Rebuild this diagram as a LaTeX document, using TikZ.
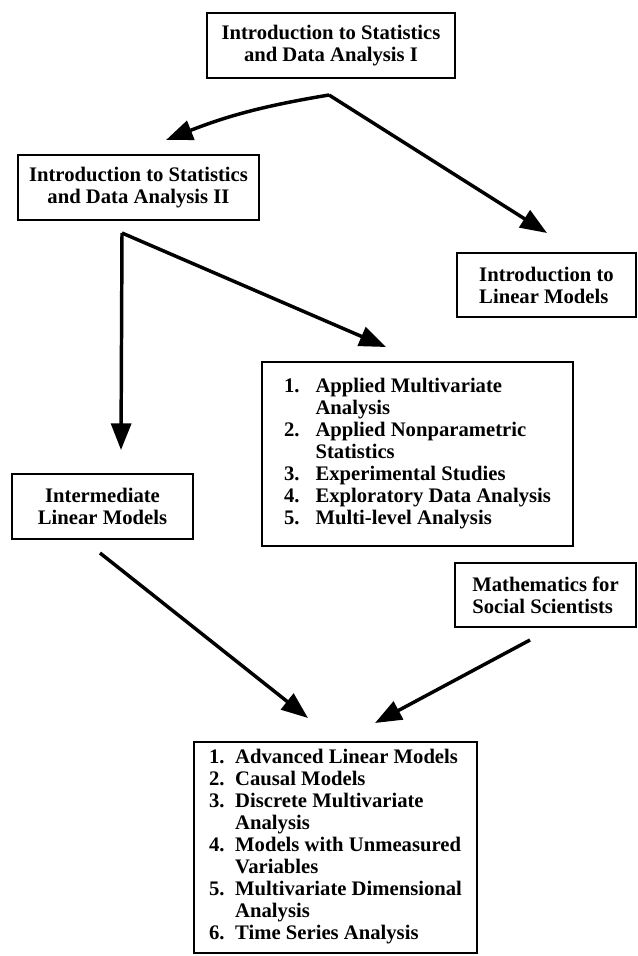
\documentclass[tikz,border=0pt]{standalone}
\usepackage{fontspec}
\setmainfont{Liberation Serif}
\usetikzlibrary{positioning,arrows.meta,calc}

\begin{document}
\begin{tikzpicture}[
x=0.75pt, y=-0.75pt,
font=\bfseries\fontsize{15.5}{16.5}\selectfont,
box/.style={draw, line width=1.3pt, inner sep=0pt, align=center},
leftbox/.style={box, align=left},
arrow/.style={-{Triangle[length=20pt, width=15pt]}, line width=2.6pt}
]
\clip (0,0) rectangle (637,956);

\node[box, minimum width=186pt, minimum height=49pt] (stat1) at (331,45.5) {Introduction to Statistics\\and Data Analysis I};
\node[box, minimum width=181pt, minimum height=49pt] (stat2) at (138.5,187.5) {Introduction to Statistics\\and Data Analysis II};
\node[leftbox, minimum width=134pt, minimum height=48pt] (linmod) at (546.5,285) {Introduction to\\Linear Models};
\node[box, minimum width=233pt, minimum height=138pt] (applied) at (417.5,454) {%
\begin{tabular}{@{}r@{\hspace{12pt}}l@{}}
1. & Applied Multivariate\\
   & Analysis\\
2. & Applied Nonparametric\\
   & Statistics\\
3. & Experimental Studies\\
4. & Exploratory Data Analysis\\
5. & Multi-level Analysis
\end{tabular}};
\node[box, minimum width=136pt, minimum height=49pt] (interm) at (102.5,506.5) {Intermediate\\Linear Models};
\node[leftbox, minimum width=136pt, minimum height=48pt] (maths) at (545.5,595) {Mathematics for\\Social Scientists};
\node[box, anchor=north, minimum width=212pt, inner ysep=5pt] (advanced) at (335.5,741) {%
\begin{tabular}{@{}r@{\hspace{8pt}}l@{}}
1. & Advanced Linear Models\\
2. & Causal Models\\
3. & Discrete Multivariate\\
   & Analysis\\
4. & Models with Unmeasured\\
   & Variables\\
5. & Multivariate Dimensional\\
   & Analysis\\
6. & Time Series Analysis
\end{tabular}};

% split points and arrow ends
\coordinate (fork1) at (329,95);
\coordinate (fork2) at (122,233);
\coordinate (to-stat2) at (166,140);
\coordinate (to-linmod) at (547,233);
\coordinate (to-interm) at (121,450);
\coordinate (to-applied) at (386,347);
\coordinate (from-interm) at (100,553);
\coordinate (from-maths) at (530,640);
\coordinate (to-adv1) at (308,718);
\coordinate (to-adv2) at (375,723);

\draw[arrow] (fork1) to[bend right=6] (to-stat2);
\draw[arrow] (fork1) -- (to-linmod);
\draw[arrow] (fork2) -- (to-interm);
\draw[arrow] (fork2) -- (to-applied);
\draw[arrow] (from-interm) -- (to-adv1);
\draw[arrow] (from-maths) -- (to-adv2);
\end{tikzpicture}
\end{document}
